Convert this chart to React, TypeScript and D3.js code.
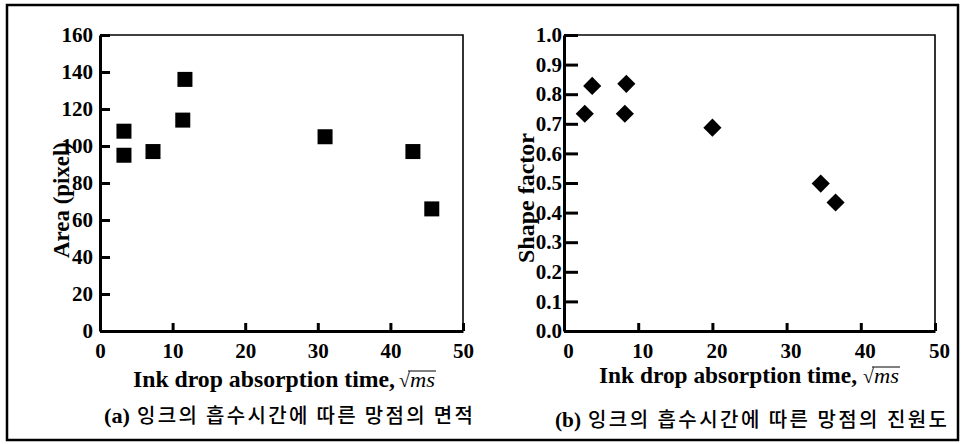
import { useEffect, useRef } from 'react';
import * as d3 from 'd3';

// panel (a): area of halftone dot vs absorption time
const areaTime = [3.3, 3.3, 7.3, 11.7, 11.4, 31, 43.1, 45.7];
const areaValue = [108, 95, 97, 136, 114, 105, 97, 66];

// panel (b): shape factor vs absorption time
const shapeTime = [2.8, 3.8, 8.4, 8.2, 20, 34.6, 36.6];
const shapeValue = [0.734, 0.828, 0.835, 0.734, 0.687, 0.498, 0.434];

const xTicks = [0, 10, 20, 30, 40, 50];
const areaTicks = [0, 20, 40, 60, 80, 100, 120, 140, 160];
const shapeTicks = [0, 0.1, 0.2, 0.3, 0.4, 0.5, 0.6, 0.7, 0.8, 0.9, 1.0];

const xTitleA = 'Ink drop absorption time,';
const xTitleB = 'Ink drop absorption time,';
const yTitleA = 'Area (pixel)';
const yTitleB = 'Shape factor';
const captionA = ['(a)', '잉크의 흡수시간에 따른 망점의 면적'];
const captionB = ['(b)', '잉크의 흡수시간에 따른 망점의 진원도'];

const SERIF = '"Liberation Serif", "Times New Roman", serif';
const KOREAN = '"Noto Sans CJK KR", sans-serif';

type Panel = {
  left: number; right: number; top: number; bottom: number;
  yMax: number; yTicks: number[]; yFmt: (v: number) => string;
  tickLen: number; labelPad: number; xLabelShift: number;
  xs: number[]; ys: number[]; marker: 'square' | 'diamond';
  xTitle: string; xTitleX: number; xTitleLen: number; xTitleY: number; sqrtX: number;
  yTitle: string; yTitleX: number; yTitleY: number; yTitleLen: number;
  caption: string[]; capX: number; capKx: number; capKLen: number; capY: number;
};

function drawPanel(svg: d3.Selection<SVGSVGElement, unknown, null, undefined>, p: Panel) {
  const x = d3.scaleLinear().domain([0, 50]).range([p.left, p.right]);
  const y = d3.scaleLinear().domain([0, p.yMax]).range([p.bottom, p.top]);
  const g = svg.append('g');

  // thin top / right frame
  g.append('path')
    .attr('d', `M${p.left},${p.top}H${p.right}V${p.bottom}`)
    .attr('fill', 'none').attr('stroke', '#000').attr('stroke-width', 1.6);

  // left axis, ticks inward
  const yAxis = g.append('g')
    .attr('transform', `translate(${p.left},0)`)
    .call(d3.axisLeft(y).tickValues(p.yTicks).tickSize(-p.tickLen).tickSizeOuter(0)
      .tickPadding(p.labelPad).tickFormat((d) => p.yFmt(d as number)));
  yAxis.select('.domain').attr('stroke-width', 3);
  yAxis.selectAll('.tick line').attr('stroke-width', 3);
  yAxis.selectAll('.tick text')
    .attr('font-family', SERIF).attr('font-weight', 'bold').attr('font-size', 21).attr('fill', '#000');

  // bottom axis, ticks inward
  const xAxis = g.append('g')
    .attr('transform', `translate(0,${p.bottom})`)
    .call(d3.axisBottom(x).tickValues(xTicks).tickSize(-8).tickSizeOuter(0).tickFormat(d3.format('d')));
  xAxis.select('.domain').attr('stroke-width', 3);
  xAxis.selectAll('.tick line').attr('stroke-width', 3);
  xAxis.selectAll('.tick text')
    .attr('font-family', SERIF).attr('font-weight', 'bold').attr('font-size', 21).attr('fill', '#000')
    .attr('y', 27).attr('dy', 0).attr('x', p.xLabelShift);
  g.selectAll('.domain').attr('stroke', '#000');

  // markers
  const pts = p.xs.map((v, i) => [x(v), y(p.ys[i])]);
  if (p.marker === 'square') {
    g.selectAll('rect.pt').data(pts).enter().append('rect')
      .attr('class', 'pt')
      .attr('x', (d) => d[0] - 7.5).attr('y', (d) => d[1] - 7.5)
      .attr('width', 15).attr('height', 15).attr('fill', '#000');
  } else {
    const sym = d3.symbol().type(d3.symbolSquare).size(165);
    g.selectAll('path.pt').data(pts).enter().append('path')
      .attr('class', 'pt')
      .attr('d', sym())
      .attr('transform', (d) => `translate(${d[0]},${d[1]}) rotate(45)`)
      .attr('fill', '#000');
  }

  // x title with sqrt(ms)
  g.append('text')
    .attr('x', p.xTitleX).attr('y', p.xTitleY)
    .attr('textLength', p.xTitleLen).attr('lengthAdjust', 'spacingAndGlyphs')
    .attr('font-family', SERIF).attr('font-weight', 'bold').attr('font-size', 24).attr('fill', '#000')
    .text(p.xTitle);
  g.append('text')
    .attr('x', p.sqrtX).attr('y', p.xTitleY)
    .attr('font-family', SERIF).attr('font-size', 20).attr('fill', '#000')
    .text('√');
  g.append('text')
    .attr('x', p.sqrtX + 11).attr('y', p.xTitleY)
    .attr('textLength', 25).attr('lengthAdjust', 'spacingAndGlyphs')
    .attr('font-family', SERIF).attr('font-style', 'italic').attr('font-size', 21).attr('fill', '#000')
    .text('ms');
  g.append('line')
    .attr('x1', p.sqrtX + 9).attr('x2', p.sqrtX + 37)
    .attr('y1', p.xTitleY - 16).attr('y2', p.xTitleY - 16)
    .attr('stroke', '#000').attr('stroke-width', 1);

  // y title
  g.append('text')
    .attr('transform', `translate(${p.yTitleX},${p.yTitleY}) rotate(-90)`)
    .attr('text-anchor', 'middle')
    .attr('textLength', p.yTitleLen).attr('lengthAdjust', 'spacingAndGlyphs')
    .attr('font-family', SERIF).attr('font-weight', 'bold').attr('font-size', 24).attr('fill', '#000')
    .text(p.yTitle);

  // caption
  g.append('text')
    .attr('x', p.capX).attr('y', p.capY)
    .attr('textLength', 26).attr('lengthAdjust', 'spacingAndGlyphs')
    .attr('font-family', SERIF).attr('font-weight', 'bold').attr('font-size', 21).attr('fill', '#000')
    .text(p.caption[0]);
  g.append('text')
    .attr('x', p.capKx).attr('y', p.capY)
    .attr('textLength', p.capKLen).attr('lengthAdjust', 'spacing')
    .attr('font-family', KOREAN).attr('font-weight', 500).attr('font-size', 20).attr('fill', '#000')
    .text(p.caption[1]);
}

export default function App() {
  const ref = useRef<SVGSVGElement>(null);

  useEffect(() => {
    const svg = d3.select(ref.current as SVGSVGElement);
    svg.selectAll('*').remove();

    svg.append('rect')
      .attr('x', 7).attr('y', 5).attr('width', 951).attr('height', 435)
      .attr('fill', 'none').attr('stroke', '#000').attr('stroke-width', 2.5);

    drawPanel(svg, {
      left: 100, right: 463, top: 35, bottom: 331,
      yMax: 160, yTicks: areaTicks, yFmt: (v) => String(v),
      tickLen: 10, labelPad: 7, xLabelShift: 0,
      xs: areaTime, ys: areaValue, marker: 'square',
      xTitle: xTitleA, xTitleX: 133, xTitleLen: 262, xTitleY: 387, sqrtX: 399,
      yTitle: yTitleA, yTitleX: 69, yTitleY: 200, yTitleLen: 116,
      caption: captionA, capX: 104, capKx: 137, capKLen: 336, capY: 423,
    });

    drawPanel(svg, {
      left: 564, right: 935, top: 35, bottom: 331,
      yMax: 1, yTicks: shapeTicks, yFmt: d3.format('.1f'),
      tickLen: 14, labelPad: 2, xLabelShift: 4,
      xs: shapeTime, ys: shapeValue, marker: 'diamond',
      xTitle: xTitleB, xTitleX: 599, xTitleLen: 258, xTitleY: 383, sqrtX: 863,
      yTitle: yTitleB, yTitleX: 534, yTitleY: 198, yTitleLen: 130,
      caption: captionB, capX: 555, capKx: 588, capKLen: 359, capY: 427,
    });
  }, []);

  return (
    <svg ref={ref} width={964} height={444}
      style={{ position: 'absolute', left: 0, top: 0, background: '#fff' }} />
  );
}
